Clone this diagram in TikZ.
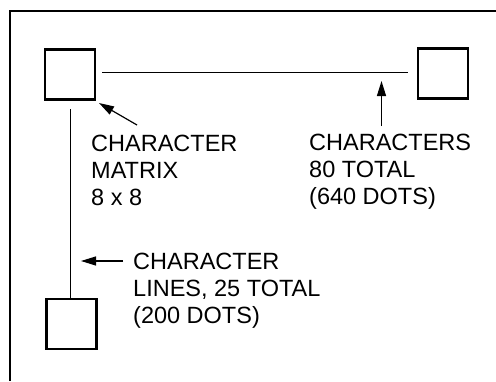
\documentclass[tikz,border=0pt]{standalone}
\usepackage{fontspec}
\setmainfont{Liberation Sans}
\usetikzlibrary{arrows.meta}
\begin{document}
\begin{tikzpicture}[x=1pt,y=-1pt,
  cell/.style={draw,line width=2.2pt,minimum width=50pt,minimum height=50pt,inner sep=0pt},
  link/.style={line width=1pt},
  pointer/.style={line width=1.2pt,-{Triangle[length=15pt,width=9pt]}},
  label/.style={align=left,anchor=base west,inner sep=0pt,
    font=\fontsize{23.5pt}{27pt}\selectfont}]
\useasboundingbox (0,0) rectangle (496,381);
\draw[line width=2pt] (10,381) -- (10,11) -- (496,11);
\node[cell] (b1) at (70,74.5) {};
\node[cell] (b2) at (443,73.5) {};
\node[cell] (b3) at (71.5,324) {};
\coordinate (h1) at (102,72);
\coordinate (h2) at (408,72);
\draw[link] (h1) -- (h2);
\coordinate (v1) at (70,109);
\draw[link] (v1) -- (v1 |- b3.north);
\node[label] (t1) at (91,205.5) {CHARACTER\\MATRIX\\8 x 8};
\node[label] (t2) at (309,204) {CHARACTERS\\80 TOTAL\\(640 DOTS)};
\node[label] (t3) at (133,323) {CHARACTER\\LINES, 25 TOTAL\\(200 DOTS)};
\coordinate (a1s) at (137,125);
\coordinate (a1e) at (99,103);
\draw[pointer] (a1s) -- (a1e);
\coordinate (a2s) at (381.5,126);
\coordinate (a2e) at (381.5,81);
\draw[pointer] (a2s) -- (a2e);
\coordinate (a3s) at (123,261);
\coordinate (a3e) at (81,261);
\draw[pointer] (a3s) -- (a3e);
\end{tikzpicture}
\end{document}
